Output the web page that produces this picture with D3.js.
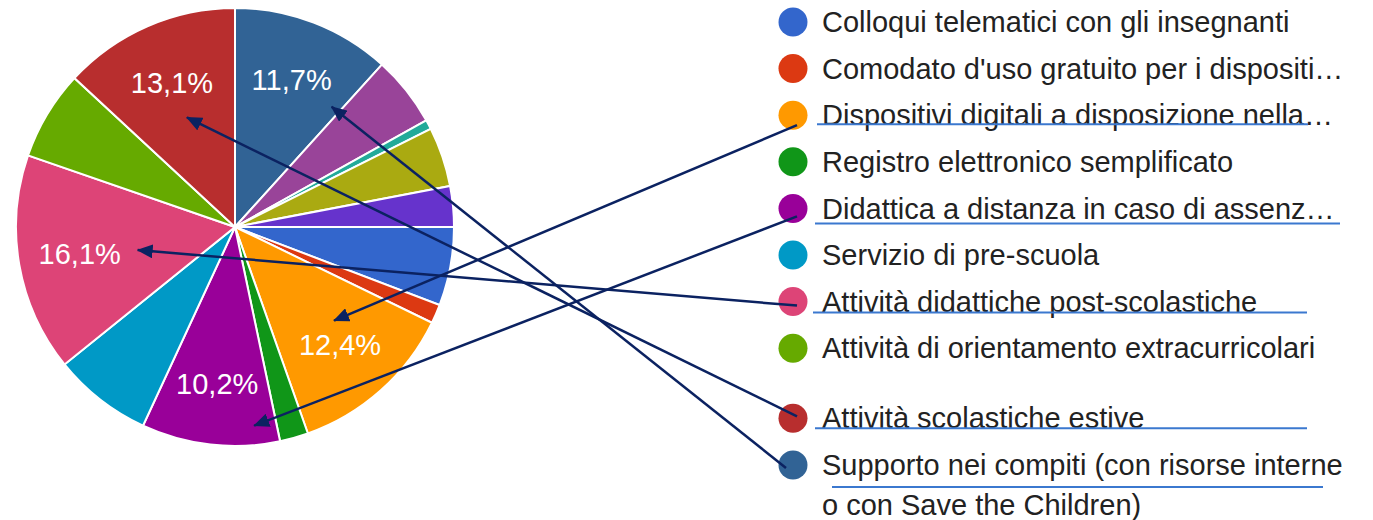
<!DOCTYPE html>
<html>
<head>
<meta charset="utf-8">
<script src="https://cdn.jsdelivr.net/npm/d3@7"></script>
<style>
    body { margin: 0; background: #ffffff; }
    svg { display: block; }
</style>
</head>
<body>
<script>
// Pie of the activities chosen (percent of answers)

// Categories (only the first ten are shown in the legend)
var categories = [
    "Colloqui telematici con gli insegnanti",
    "Comodato d'uso gratuito per i dispositi…",
    "Dispositivi digitali a disposizione nella…",
    "Registro elettronico semplificato",
    "Didattica a distanza in caso di assenz…",
    "Servizio di pre-scuola",
    "Attività didattiche post-scolastiche",
    "Attività di orientamento extracurricolari",
    "Attività scolastiche estive",
    "Supporto nei compiti (con risorse interne\no con Save the Children)",
    "Altro 11",
    "Altro 12",
    "Altro 13",
    "Altro 14"
];

// Share of each slice, in percent
var values = [5.8, 1.4, 12.4, 2.1, 10.2, 7.3, 16.1, 6.6, 13.1, 11.7, 5.2, 0.7, 4.4, 3.0];

// Slice colours
var colors = ["#3366cc", "#dc3912", "#ff9900", "#109618", "#990099", "#0099c6", "#dd4477",
    "#66aa00", "#b82e2e", "#316395", "#994499", "#22aa99", "#aaaa11", "#6633cc"];

// How many legend rows are visible
var legendCount = 10;

// Hand drawn arrows: slice index -> legend marker
var arrowSlices = [2, 4, 6, 8, 9];
var arrowTipOffset = [[-6, -24], [37, 42], [58, -4], [15, 35], [40, 27]];
var arrowEndOffset = [[4, 10], [4, 8], [4, 4], [4, -2], [-7, 3]];

// Hand drawn underlines under some legend rows: [row, dy, x0, x1]
var underlines = [[2, 9, -5, 486], [4, 15, -7, 518], [6, 11, -9, 485], [8, 10, -7, 485], [9, 22, 10, 501]];

var width = 1373,
    height = 520;

var svg = d3.select("body").append("svg")
    .attr("width", width)
    .attr("height", height);

var cx = 235,
    cy = 227,
    radius = 219;

// pie starts at 3 o'clock and goes clockwise
var pie = d3.pie()
    .sort(null)
    .startAngle(Math.PI / 2)
    .endAngle(Math.PI / 2 + 2 * Math.PI)
    .value(function (d) { return d; });

var arcs = pie(values);

var arc = d3.arc().innerRadius(0).outerRadius(radius);
var labelArc = d3.arc().innerRadius(radius * 0.72).outerRadius(radius * 0.72);

var g = svg.append("g")
    .attr("transform", "translate(" + cx + "," + cy + ")");

g.selectAll("path.slice")
    .data(arcs)
    .enter()
    .append("path")
    .attr("class", "slice")
    .attr("d", arc)
    .attr("fill", function (d, i) { return colors[i]; })
    .attr("stroke", "#ffffff")
    .attr("stroke-width", 2);

// percentage labels on the big slices
var fmt = function (v) { return d3.format(".1f")(v).replace(".", ",") + "%"; };

g.selectAll("text.pct")
    .data(arcs.filter(function (d) { return d.value >= 10; }))
    .enter()
    .append("text")
    .attr("class", "pct")
    .attr("x", function (d) { return labelArc.centroid(d)[0]; })
    .attr("y", function (d) { return labelArc.centroid(d)[1]; })
    .attr("dy", "0.35em")
    .attr("text-anchor", "middle")
    .attr("font-family", "Arial, 'Liberation Sans', sans-serif")
    .attr("font-size", "29px")
    .attr("fill", "#ffffff")
    .text(function (d) { return fmt(d.value); });

// Legend
var legendX = 793,
    textX = 822,
    rowStep = 46.6;

function rowY(i) {
    // the last two rows sit a little lower
    return 22 + i * rowStep + (i >= 8 ? 23.5 : 0);
}

var legend = svg.append("g");

var rows = legend.selectAll("g.row")
    .data(categories.slice(0, legendCount))
    .enter()
    .append("g")
    .attr("class", "row")
    .attr("transform", function (d, i) { return "translate(0," + rowY(i) + ")"; });

rows.append("circle")
    .attr("cx", legendX)
    .attr("cy", 0)
    .attr("r", 14.5)
    .attr("fill", function (d, i) { return colors[i]; });

rows.append("text")
    .attr("x", textX)
    .attr("font-family", "Arial, 'Liberation Sans', sans-serif")
    .attr("font-size", "29px")
    .attr("fill", "#222222")
    .selectAll("tspan")
    .data(function (d) { return d.split("\n"); })
    .enter()
    .append("tspan")
    .attr("x", textX)
    .attr("y", function (d, j) { return j * 40; })
    .attr("dy", "0.35em")
    .text(function (d) { return d; });

// Underlines
svg.selectAll("line.under")
    .data(underlines)
    .enter()
    .append("line")
    .attr("class", "under")
    .attr("x1", function (d) { return textX + d[2]; })
    .attr("x2", function (d) { return textX + d[3]; })
    .attr("y1", function (d) { return rowY(d[0]) + d[1]; })
    .attr("y2", function (d) { return rowY(d[0]) + d[1]; })
    .attr("stroke", "#3b78cf")
    .attr("stroke-width", 2);

// Arrows from legend markers to the labels
svg.append("defs").append("marker")
    .attr("id", "head")
    .attr("markerUnits", "userSpaceOnUse")
    .attr("viewBox", "0 0 16 14")
    .attr("refX", 15)
    .attr("refY", 7)
    .attr("markerWidth", 16)
    .attr("markerHeight", 14)
    .attr("orient", "auto")
    .append("path")
    .attr("d", "M0,0 L16,7 L0,14 Z")
    .attr("fill", "#0b2261");

svg.selectAll("line.arrow")
    .data(arrowSlices)
    .enter()
    .append("line")
    .attr("class", "arrow")
    .attr("x1", function (d, i) { return legendX + arrowEndOffset[i][0]; })
    .attr("y1", function (d, i) { return rowY(d) + arrowEndOffset[i][1]; })
    .attr("x2", function (d, i) { return cx + labelArc.centroid(arcs[d])[0] + arrowTipOffset[i][0]; })
    .attr("y2", function (d, i) { return cy + labelArc.centroid(arcs[d])[1] + arrowTipOffset[i][1]; })
    .attr("stroke", "#0b2261")
    .attr("stroke-width", 2.5)
    .attr("marker-end", "url(#head)");
</script>
</body>
</html>
